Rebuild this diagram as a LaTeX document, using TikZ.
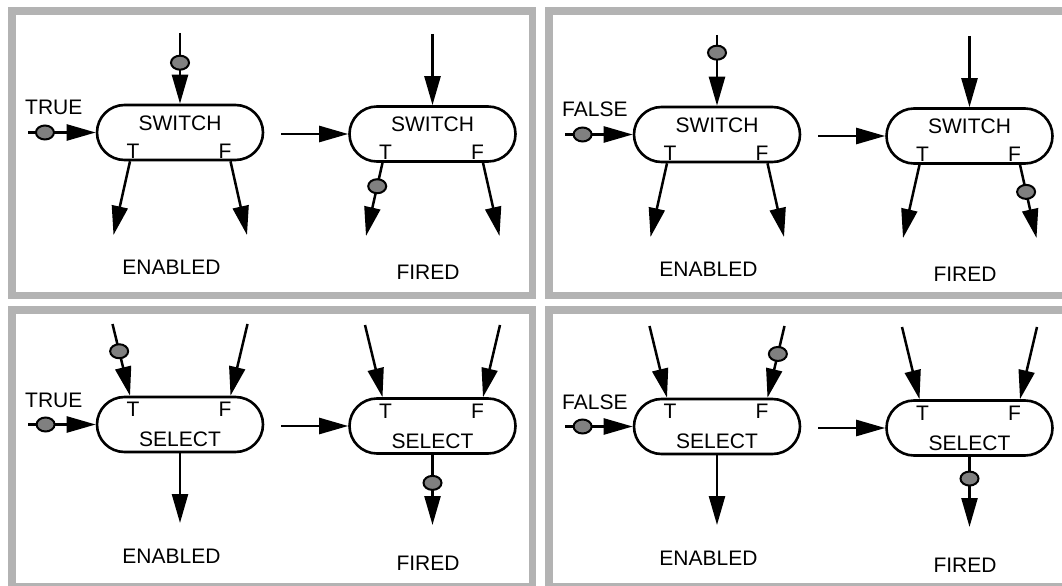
\documentclass[tikz,border=0pt]{standalone}
\usepackage{fontspec}
\setmainfont{Liberation Sans}
\usetikzlibrary{arrows.meta,shapes.geometric}
\definecolor{framegray}{RGB}{179,179,179}
\definecolor{tokgray}{RGB}{128,128,128}
\begin{document}
\begin{tikzpicture}[x=1bp, y=-1bp,
  frame/.style={draw=framegray, line width=7.5bp},
  gate/.style={draw, line width=2.6bp, rounded corners=27.5bp, minimum width=166bp, minimum height=55bp, inner sep=0pt},
  wire/.style={line width=2.5bp, -{Triangle[length=29bp,width=16bp]}},
  token/.style={ellipse, draw, fill=tokgray, line width=2bp, minimum width=18bp, minimum height=14bp, inner sep=0pt},
  lbl/.style={font=\fontsize{21bp}{25bp}\selectfont, inner sep=0pt, anchor=base}]
\useasboundingbox (0,0) rectangle (1062,586);
\clip (0,0) rectangle (1062,586);
% frames
\draw[frame] (12,11) rectangle (532.5,295.5);
\draw[frame] (549,11) rectangle (1080,295.5);
\draw[frame] (12,310) rectangle (532.5,587);
\draw[frame] (549,310) rectangle (1080,587);
% switch, control TRUE
\begin{scope}
\node[gate] (sw1) at (180,132.5) {};
\node[gate] (sw2) at (432.5,134) {};
\node[lbl] (sw1-name) at ([yshift=2bp]sw1.center) {SWITCH};
\node[lbl] (sw1-t) at ([xshift=-47bp,yshift=-26bp]sw1.center) {T};
\node[lbl] (sw1-f) at ([xshift=45bp,yshift=-26bp]sw1.center) {F};
\node[lbl] (sw2-name) at ([yshift=2bp]sw2.center) {SWITCH};
\node[lbl] (sw2-t) at ([xshift=-47bp,yshift=-26bp]sw2.center) {T};
\node[lbl] (sw2-f) at ([xshift=45bp,yshift=-26bp]sw2.center) {F};
\node[lbl, anchor=base west] (sw1-cond) at (25,115) {TRUE};
\coordinate (sw1-in) at (28,132.5);
\coordinate (sw1-top) at (180,33);
\coordinate (sw1-tout) at (113.5,235);
\coordinate (sw1-fout) at (247,235);
\coordinate (sw2-in) at (281,134);
\coordinate (sw2-top) at (432.5,34);
\coordinate (sw2-tout) at (366,236);
\coordinate (sw2-fout) at (499.5,236);
\draw[wire] (sw1-in) -- (sw1.west) node[token,pos=0.25] (tok1) {};
\draw[wire] (sw1-top) -- (sw1.north) node[token,pos=0.42] (tok2) {};
\draw[wire] ([xshift=-50bp]sw1.south) -- (sw1-tout);
\draw[wire] ([xshift=50.5bp]sw1.south) -- (sw1-fout);
\draw[wire] (sw2-in) -- (sw2.west);
\draw[wire] (sw2-top) -- (sw2.north);
\draw[wire] ([xshift=-50bp]sw2.south) -- (sw2-tout) node[token,pos=0.32] (tok3) {};
\draw[wire] ([xshift=50.5bp]sw2.south) -- (sw2-fout);
\node[lbl] (enabled1) at (171.5,274.5) {ENABLED};
\node[lbl] (fired1) at (428,280) {FIRED};
\end{scope}
% switch, control FALSE
\begin{scope}[shift={(537,2)}]
\node[gate] (sw3) at (180,132.5) {};
\node[gate] (sw4) at (432.5,134) {};
\node[lbl] (sw3-name) at ([yshift=2bp]sw3.center) {SWITCH};
\node[lbl] (sw3-t) at ([xshift=-47bp,yshift=-26bp]sw3.center) {T};
\node[lbl] (sw3-f) at ([xshift=45bp,yshift=-26bp]sw3.center) {F};
\node[lbl] (sw4-name) at ([yshift=2bp]sw4.center) {SWITCH};
\node[lbl] (sw4-t) at ([xshift=-47bp,yshift=-26bp]sw4.center) {T};
\node[lbl] (sw4-f) at ([xshift=45bp,yshift=-26bp]sw4.center) {F};
\node[lbl, anchor=base west] (sw3-cond) at (25,115) {FALSE};
\coordinate (sw3-in) at (28,132.5);
\coordinate (sw3-top) at (180,33);
\coordinate (sw3-tout) at (113.5,235);
\coordinate (sw3-fout) at (247,235);
\coordinate (sw4-in) at (281,134);
\coordinate (sw4-top) at (432.5,34);
\coordinate (sw4-tout) at (366,236);
\coordinate (sw4-fout) at (499.5,236);
\draw[wire] (sw3-in) -- (sw3.west) node[token,pos=0.26] (tok4) {};
\draw[wire] (sw3-top) -- (sw3.north) node[token,pos=0.25] (tok5) {};
\draw[wire] ([xshift=-50bp]sw3.south) -- (sw3-tout);
\draw[wire] ([xshift=50.5bp]sw3.south) -- (sw3-fout);
\draw[wire] (sw4-in) -- (sw4.west);
\draw[wire] (sw4-top) -- (sw4.north);
\draw[wire] ([xshift=-50bp]sw4.south) -- (sw4-tout);
\draw[wire] ([xshift=50.5bp]sw4.south) -- (sw4-fout) node[token,pos=0.37] (tok6) {};
\node[lbl] (enabled2) at (171.5,274.5) {ENABLED};
\node[lbl] (fired2) at (428,280) {FIRED};
\end{scope}
% select, control TRUE
\begin{scope}[shift={(0,292)}]
\node[gate] (sel1) at (180,132.5) {};
\node[gate] (sel2) at (432.5,134) {};
\node[lbl] (sel1-name) at ([yshift=-22bp]sel1.center) {SELECT};
\node[lbl] (sel1-t) at ([xshift=-47bp,yshift=8bp]sel1.center) {T};
\node[lbl] (sel1-f) at ([xshift=45bp,yshift=8bp]sel1.center) {F};
\node[lbl] (sel2-name) at ([yshift=-22bp]sel2.center) {SELECT};
\node[lbl] (sel2-t) at ([xshift=-47bp,yshift=8bp]sel2.center) {T};
\node[lbl] (sel2-f) at ([xshift=45bp,yshift=8bp]sel2.center) {F};
\node[lbl, anchor=base west] (sel1-cond) at (25,115) {TRUE};
\coordinate (sel1-in) at (28,132.5);
\coordinate (sel1-tin) at (112.5,32);
\coordinate (sel1-fin) at (247.5,32);
\coordinate (sel1-out) at (180,231);
\coordinate (sel2-in) at (281,134);
\coordinate (sel2-tin) at (365,33);
\coordinate (sel2-fin) at (500,33);
\coordinate (sel2-out) at (432.5,233);
\draw[wire] (sel1-in) -- (sel1.west) node[token,pos=0.26] (tok7) {};
\draw[wire] (sel1-tin) -- ([xshift=-50bp]sel1.north) node[token,pos=0.38] (tok8) {};
\draw[wire] (sel1-fin) -- ([xshift=50.5bp]sel1.north);
\draw[wire] (sel1.south) -- (sel1-out);
\draw[wire] (sel2-in) -- (sel2.west);
\draw[wire] (sel2-tin) -- ([xshift=-50bp]sel2.north);
\draw[wire] (sel2-fin) -- ([xshift=50.5bp]sel2.north);
\draw[wire] (sel2.south) -- (sel2-out) node[token,pos=0.40] (tok9) {};
\node[lbl] (enabled3) at (171.5,271.5) {ENABLED};
\node[lbl] (fired3) at (428,278) {FIRED};
\end{scope}
% select, control FALSE
\begin{scope}[shift={(537,294)}]
\node[gate] (sel3) at (180,132.5) {};
\node[gate] (sel4) at (432.5,134) {};
\node[lbl] (sel3-name) at ([yshift=-22bp]sel3.center) {SELECT};
\node[lbl] (sel3-t) at ([xshift=-47bp,yshift=8bp]sel3.center) {T};
\node[lbl] (sel3-f) at ([xshift=45bp,yshift=8bp]sel3.center) {F};
\node[lbl] (sel4-name) at ([yshift=-22bp]sel4.center) {SELECT};
\node[lbl] (sel4-t) at ([xshift=-47bp,yshift=8bp]sel4.center) {T};
\node[lbl] (sel4-f) at ([xshift=45bp,yshift=8bp]sel4.center) {F};
\node[lbl, anchor=base west] (sel3-cond) at (25,115) {FALSE};
\coordinate (sel3-in) at (28,132.5);
\coordinate (sel3-tin) at (112.5,32);
\coordinate (sel3-fin) at (247.5,32);
\coordinate (sel3-out) at (180,231);
\coordinate (sel4-in) at (281,134);
\coordinate (sel4-tin) at (365,33);
\coordinate (sel4-fin) at (500,33);
\coordinate (sel4-out) at (432.5,233);
\draw[wire] (sel3-in) -- (sel3.west) node[token,pos=0.26] (tok10) {};
\draw[wire] (sel3-tin) -- ([xshift=-50bp]sel3.north);
\draw[wire] (sel3-fin) -- ([xshift=50.5bp]sel3.north) node[token,pos=0.39] (tok11) {};
\draw[wire] (sel3.south) -- (sel3-out);
\draw[wire] (sel4-in) -- (sel4.west);
\draw[wire] (sel4-tin) -- ([xshift=-50bp]sel4.north);
\draw[wire] (sel4-fin) -- ([xshift=50.5bp]sel4.north);
\draw[wire] (sel4.south) -- (sel4-out) node[token,pos=0.31] (tok12) {};
\node[lbl] (enabled4) at (171.5,271.5) {ENABLED};
\node[lbl] (fired4) at (428,278) {FIRED};
\end{scope}
\end{tikzpicture}
\end{document}
